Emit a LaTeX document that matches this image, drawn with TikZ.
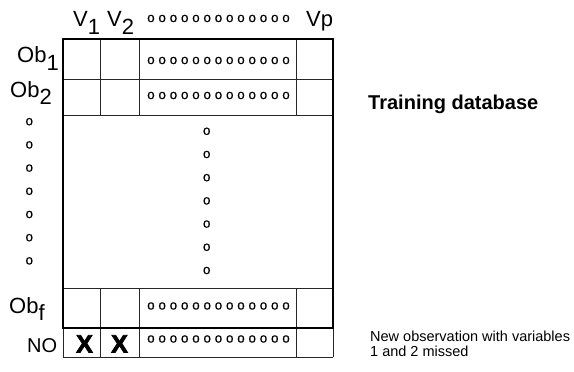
\documentclass[tikz,border=0pt]{standalone}
\usepackage{fontspec}
\setmainfont{Liberation Sans}
\newfontfamily\heavyfont[FakeBold=3]{Liberation Sans Bold}
\newfontfamily\dotfont[FakeBold=0.6]{Liberation Sans}
\newcommand{\lowsub}[1]{\raisebox{-0.34em}{#1}}
\begin{document}
\begin{tikzpicture}[x=1pt,y=-1pt,
  gridline/.style={line width=0.9pt, draw=black!85},
  frame/.style={line width=2.7pt, draw=black},
  biglabel/.style={font=\fontsize{22}{22}\selectfont, inner sep=0pt},
  dotrow/.style={font=\fontsize{13.5}{13.5}\dotfont, inner sep=0pt},
  dot/.style={font=\fontsize{13.5}{13.5}\dotfont, inner sep=0pt},
  missmark/.style={font=\fontsize{25}{25}\heavyfont, inner sep=0pt},
  title/.style={font=\fontsize{20}{20}\selectfont\bfseries, inner sep=0pt},
  note/.style={font=\fontsize{14.5}{15}\selectfont, inner sep=0pt, align=left}]
\useasboundingbox (0,0) rectangle (574,372);

% column edges and row edges of the table
\def\xa{63}\def\xb{100}\def\xc{139}\def\xd{296}\def\xe{333}
\def\ya{39}\def\yb{79}\def\yc{115}\def\yd{288}\def\ye{328}\def\yf{357}

% thin grid lines
\draw[gridline] (\xa,\yb) -- (\xe,\yb);
\draw[gridline] (\xa,\yc) -- (\xe,\yc);
\draw[gridline] (\xa,\yd) -- (\xe,\yd);
\draw[gridline] (\xa,\yf) -- (\xe,\yf);
\foreach \cx in {\xb,\xc,\xd} {
  \draw[gridline] (\cx,\ya) -- (\cx,\yc);
  \draw[gridline] (\cx,\yd) -- (\cx,\yf);
}
\draw[gridline] (\xa,\ye) -- (\xa,\yf);
\draw[gridline] (\xe,\ye) -- (\xe,\yf);

% training block outline
\draw[frame] (\xa,\ya) rectangle (\xe,\ye);

% column headers
\node[biglabel, anchor=base west] (v1) at (73,27) {V\lowsub{1}};
\node[biglabel, anchor=base west] (v2) at (107,27) {V\lowsub{2}};
\node[dotrow] (hdots) at (218.5,18.5) {o o o o o o o o o o o o o};
\node[biglabel, anchor=base west] (vp) at (306,27) {Vp};

% row labels
\node[biglabel, anchor=base west] (ob1) at (17,63) {Ob\lowsub{1}};
\node[biglabel, anchor=base west] (ob2) at (10,97) {Ob\lowsub{2}};
\node[biglabel, anchor=base west] (obf) at (9,313) {Ob\lowsub{f}};
\node[font=\fontsize{20}{20}\selectfont, inner sep=0pt, anchor=base west] (no) at (27,352) {NO};

% vertical ellipses
\foreach \k in {0,...,6} {
  \node[dot] (ld\k) at (29.3,121.7+23.2*\k) {o};
  \node[dot] (md\k) at (206.7,131.3+23.2*\k) {o};
}

% dotted cells
\node[dotrow] (r1) at (218.5,60.5) {o o o o o o o o o o o o o};
\node[dotrow] (r2) at (218.5,95.5) {o o o o o o o o o o o o o};
\node[dotrow] (rf) at (218.5,306) {o o o o o o o o o o o o o};
\node[dotrow] (rn) at (218.5,339) {o o o o o o o o o o o o o};

% missing values
\node[missmark, anchor=base] (x1) at (84.5,352.5) {X};
\node[missmark, anchor=base] (x2) at (119.5,352.5) {X};

% side captions
\node[title, anchor=base west] (train) at (368,109) {Training database};
\node[note, anchor=north west] (newobs) at (370,331) {New observation with variables\\1 and 2 missed};
\end{tikzpicture}
\end{document}
